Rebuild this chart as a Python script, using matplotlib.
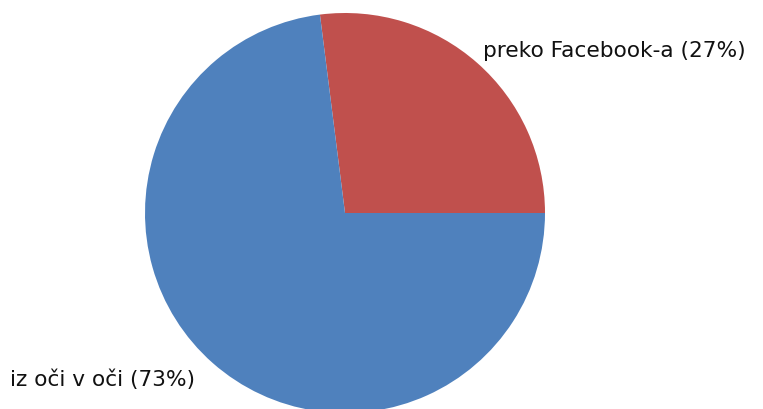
import matplotlib
matplotlib.use("Agg")
import matplotlib.pyplot as plt

labels = ["preko Facebook-a", "iz oči v oči"]
shares = [27, 73]
colors = ["#C0504D", "#4F81BD"]

fig = plt.figure(figsize=(7.63, 4.1), dpi=100)
ax = fig.add_axes([145/763, (410-414)/410, 400/763, 400/410])
ax.pie(shares, colors=colors, startangle=0, counterclock=True, radius=1,
       wedgeprops=dict(linewidth=0))
ax.set_xlim(-1, 1); ax.set_ylim(-1, 1)
ax.set_aspect("equal"); ax.axis("off")

fig.text(483/763, 1-51/410, f"{labels[0]} ({shares[0]}%)", fontsize=15.6, va="center", ha="left", color="#111")
fig.text(10/763, 1-380/410, f"{labels[1]} ({shares[1]}%)", fontsize=15.6, va="center", ha="left", color="#111")

fig.savefig("out.png", dpi=100)
